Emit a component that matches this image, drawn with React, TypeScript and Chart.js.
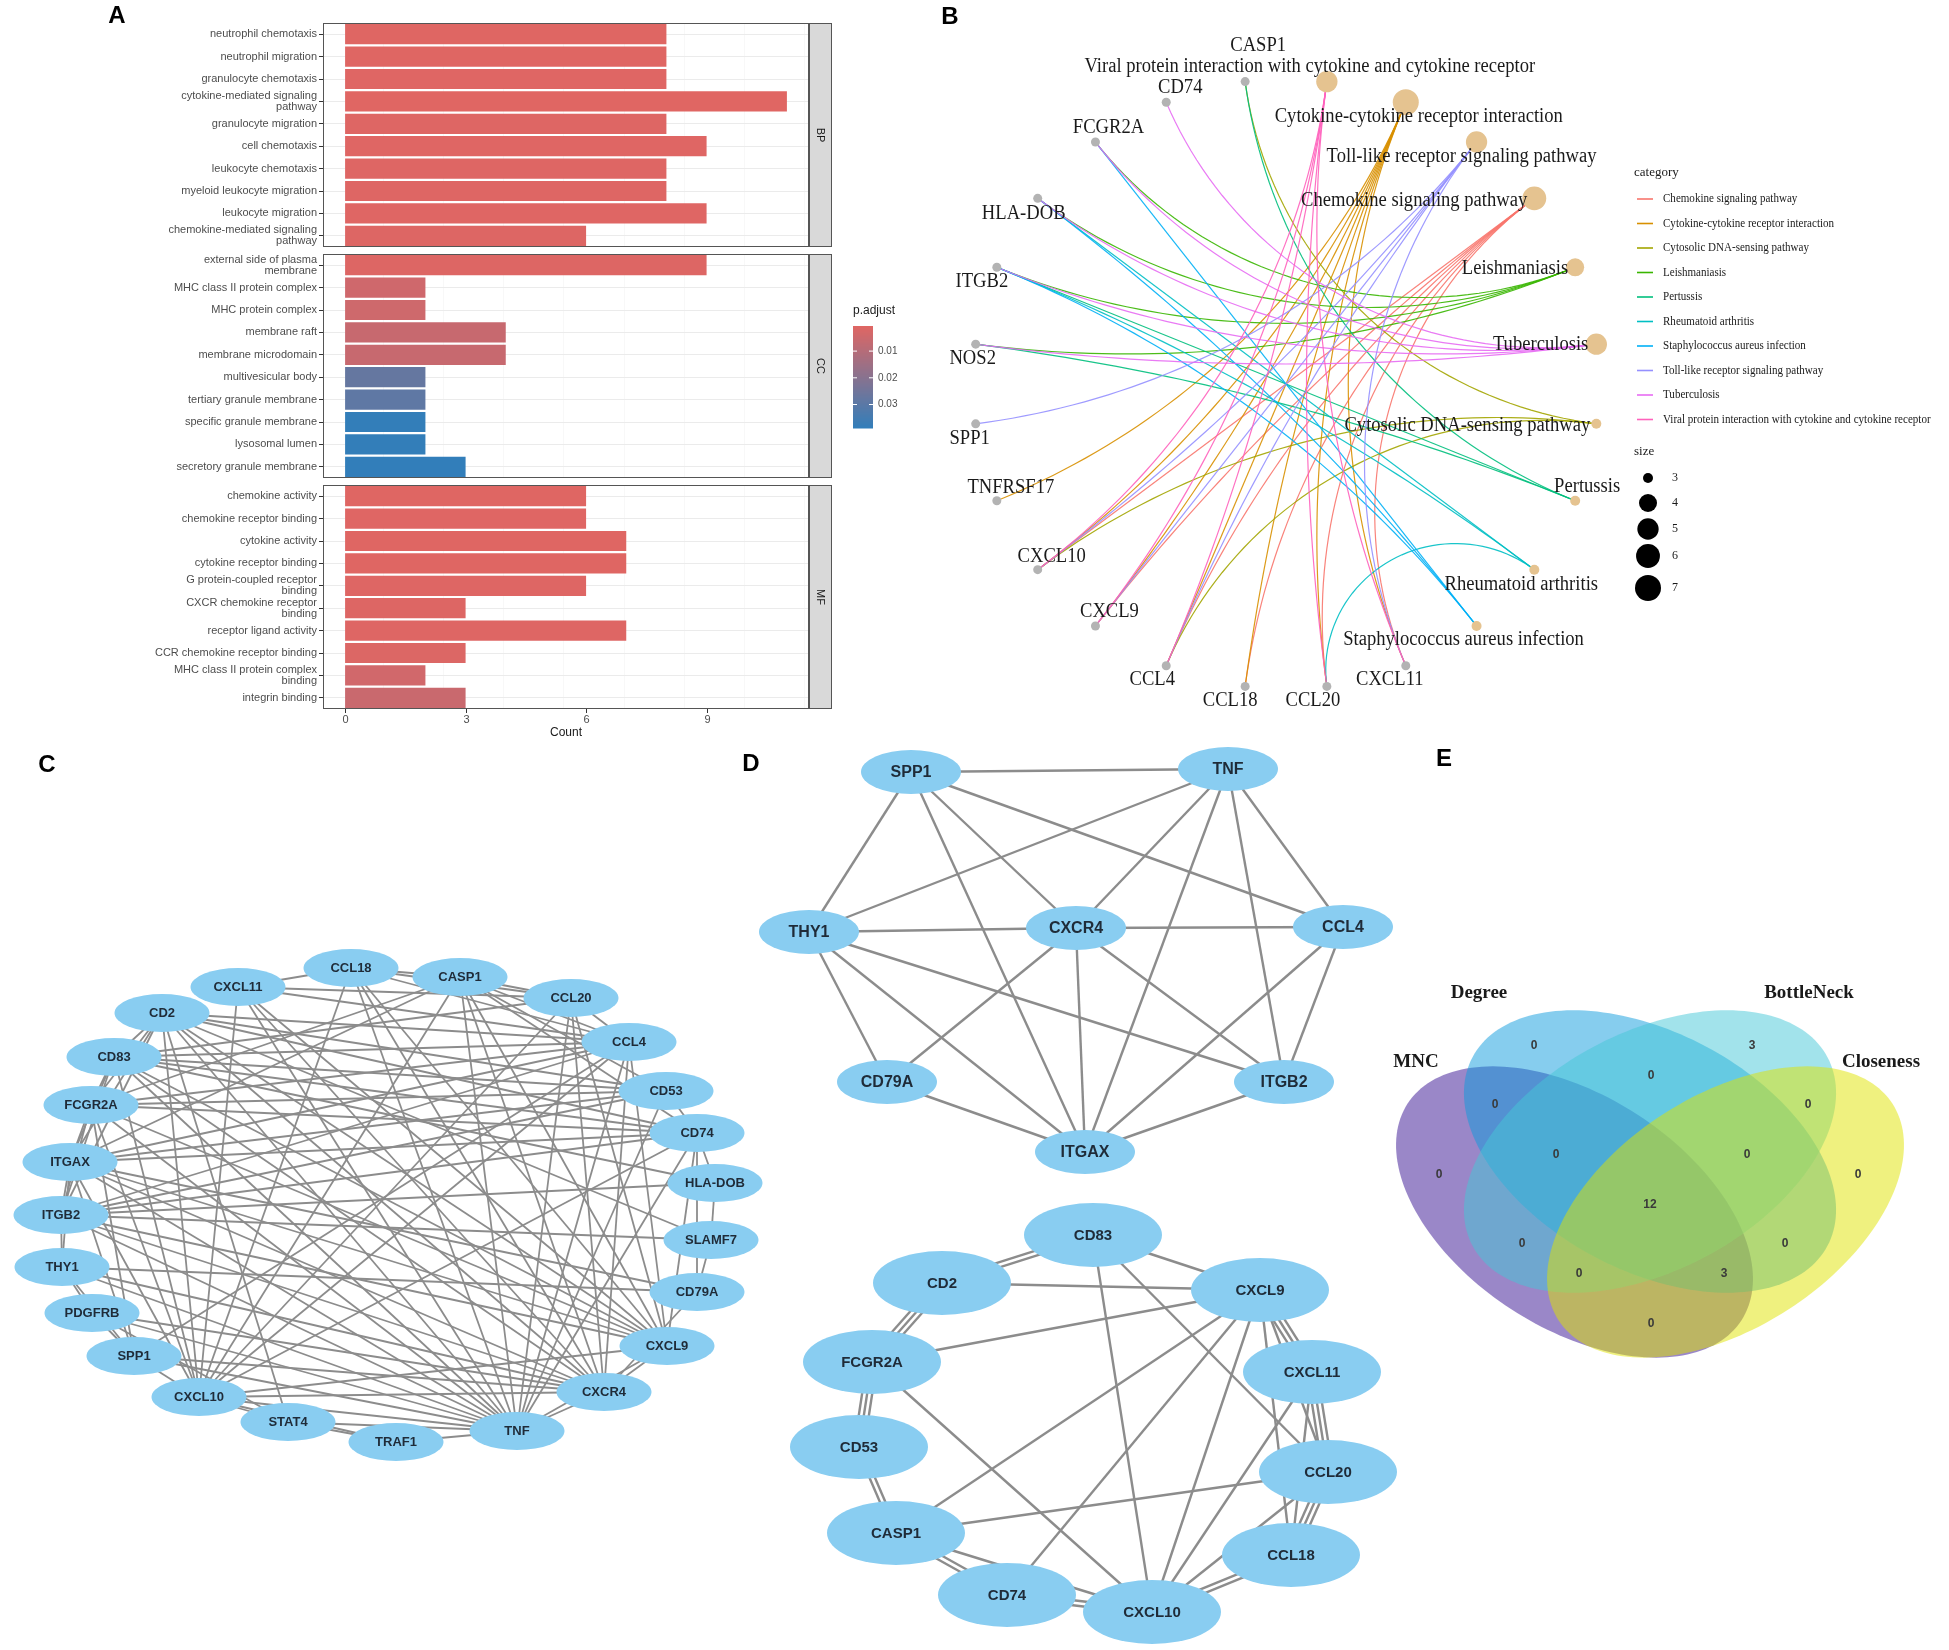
import React, { useEffect, useRef } from "react";
import { Chart, registerables } from "chart.js";
Chart.register(...registerables);

const SANS = '"Liberation Sans", Arial, sans-serif';
const SERIF = '"Liberation Serif", "Times New Roman", serif';

// ================= Panel A : GO enrichment (Count, p.adjust) =================
const bpTerms = [
  "neutrophil chemotaxis", "neutrophil migration", "granulocyte chemotaxis",
  "cytokine-mediated signaling\npathway", "granulocyte migration", "cell chemotaxis",
  "leukocyte chemotaxis", "myeloid leukocyte migration", "leukocyte migration",
  "chemokine-mediated signaling\npathway",
];
const bpCounts = [8, 8, 8, 11, 8, 9, 8, 8, 9, 6];
const bpPadj = [0.0008, 0.0008, 0.0009, 0.0006, 0.001, 0.0009, 0.001, 0.0011, 0.0009, 0.0012];

const ccTerms = [
  "external side of plasma\nmembrane", "MHC class II protein complex", "MHC protein complex",
  "membrane raft", "membrane microdomain", "multivesicular body", "tertiary granule membrane",
  "specific granule membrane", "lysosomal lumen", "secretory granule membrane",
];
const ccCounts = [9, 2, 2, 4, 4, 2, 2, 2, 2, 3];
const ccPadj = [0.0012, 0.0044, 0.0046, 0.006, 0.006, 0.0275, 0.029, 0.0385, 0.0385, 0.0388];

const mfTerms = [
  "chemokine activity", "chemokine receptor binding", "cytokine activity", "cytokine receptor binding",
  "G protein-coupled receptor\nbinding", "CXCR chemokine receptor\nbinding", "receptor ligand activity",
  "CCR chemokine receptor binding", "MHC class II protein complex\nbinding", "integrin binding",
];
const mfCounts = [6, 6, 7, 7, 6, 3, 7, 3, 2, 3];
const mfPadj = [0.0008, 0.0009, 0.0008, 0.0008, 0.001, 0.0012, 0.0011, 0.0014, 0.004, 0.0056];

const countTickLabels = [0, 3, 6, 9];
const countMajorStep = 3;
const padjLegendTicks = [0.01, 0.02, 0.03];

// ================= Panel B : cnetplot =================
const cnetGenes = ["CASP1", "CD74", "FCGR2A", "HLA-DOB", "ITGB2", "NOS2", "SPP1", "TNFRSF17", "CXCL10", "CXCL9", "CCL4", "CCL18", "CCL20", "CXCL11"];
const cnetPathways = [
  "Chemokine signaling pathway", "Cytokine-cytokine receptor interaction", "Cytosolic DNA-sensing pathway",
  "Leishmaniasis", "Pertussis", "Rheumatoid arthritis", "Staphylococcus aureus infection",
  "Toll-like receptor signaling pathway", "Tuberculosis", "Viral protein interaction with cytokine and cytokine receptor",
];
const cnetPathwayGenes = [
  ["CXCL10", "CXCL9", "CCL4", "CCL18", "CCL20", "CXCL11"],
  ["TNFRSF17", "CXCL10", "CXCL9", "CCL4", "CCL18", "CCL20", "CXCL11"],
  ["CASP1", "CXCL10", "CCL4"],
  ["FCGR2A", "HLA-DOB", "ITGB2", "NOS2"],
  ["CASP1", "ITGB2", "NOS2"],
  ["HLA-DOB", "ITGB2", "CCL20"],
  ["FCGR2A", "HLA-DOB", "ITGB2"],
  ["SPP1", "CXCL10", "CXCL9", "CCL4", "CXCL11"],
  ["CD74", "FCGR2A", "HLA-DOB", "ITGB2", "NOS2"],
  ["CXCL10", "CXCL9", "CCL4", "CCL20", "CXCL11"],
];
const cnetCircleOrder = [
  "Viral protein interaction with cytokine and cytokine receptor", "Cytokine-cytokine receptor interaction",
  "Toll-like receptor signaling pathway", "Chemokine signaling pathway", "Leishmaniasis", "Tuberculosis",
  "Cytosolic DNA-sensing pathway", "Pertussis", "Rheumatoid arthritis", "Staphylococcus aureus infection",
  "CXCL11", "CCL20", "CCL18", "CCL4", "CXCL9", "CXCL10", "TNFRSF17", "SPP1", "NOS2", "ITGB2", "HLA-DOB", "FCGR2A", "CD74", "CASP1",
];
const sizeLegendValues = [3, 4, 5, 6, 7];

// ================= Panel C : PPI network (layout coordinates) =================
const ppiNodes = ["CCL18", "CASP1", "CCL20", "CCL4", "CD53", "CD74", "HLA-DOB", "SLAMF7", "CD79A", "CXCL9", "CXCR4", "TNF", "TRAF1", "STAT4", "CXCL10", "SPP1", "PDGFRB", "THY1", "ITGB2", "ITGAX", "FCGR2A", "CD83", "CD2", "CXCL11"];
const ppiX = [351, 460, 571, 629, 666, 697, 715, 711, 697, 667, 604, 517, 396, 288, 199, 134, 92, 62, 61, 70, 91, 114, 162, 238];
const ppiY = [228, 237, 258, 302, 351, 393, 443, 500, 552, 606, 652, 691, 702, 682, 657, 616, 573, 527, 475, 422, 365, 317, 273, 247];
const ppiEdges = [
  ["TNF", "CCL18"], ["TNF", "CASP1"], ["TNF", "CCL20"], ["TNF", "CCL4"], ["TNF", "CD74"], ["TNF", "CXCL9"], ["TNF", "CXCR4"], ["TNF", "TRAF1"], ["TNF", "STAT4"], ["TNF", "CXCL10"],
  ["TNF", "SPP1"], ["TNF", "PDGFRB"], ["TNF", "THY1"], ["TNF", "ITGB2"], ["TNF", "ITGAX"], ["TNF", "FCGR2A"], ["TNF", "CD83"], ["TNF", "CD2"], ["TNF", "CXCL11"], ["TNF", "CD53"],
  ["CXCL10", "CCL18"], ["CXCL10", "CASP1"], ["CXCL10", "CCL20"], ["CXCL10", "CCL4"], ["CXCL10", "CD74"], ["CXCL10", "CXCL9"], ["CXCL10", "CXCR4"], ["CXCL10", "STAT4"], ["CXCL10", "SPP1"],
  ["CXCL10", "ITGAX"], ["CXCL10", "FCGR2A"], ["CXCL10", "CD83"], ["CXCL10", "CD2"], ["CXCL10", "CXCL11"], ["CXCL10", "TRAF1"],
  ["CXCR4", "SPP1"], ["CXCR4", "THY1"], ["CXCR4", "CCL4"], ["CXCR4", "CD79A"], ["CXCR4", "ITGAX"], ["CXCR4", "ITGB2"], ["CXCR4", "CXCL9"], ["CXCR4", "CCL20"], ["CXCR4", "CXCL11"],
  ["CXCR4", "CASP1"], ["CXCR4", "CD2"], ["CXCR4", "CD83"], ["CXCR4", "CCL18"], ["CXCR4", "PDGFRB"],
  ["CXCL9", "CD83"], ["CXCL9", "CD2"], ["CXCL9", "FCGR2A"], ["CXCL9", "CASP1"], ["CXCL9", "CD74"], ["CXCL9", "CXCL11"], ["CXCL9", "CCL20"], ["CXCL9", "CCL18"], ["CXCL9", "CCL4"],
  ["CXCL9", "ITGAX"], ["CXCL9", "ITGB2"],
  ["CCL4", "SPP1"], ["CCL4", "ITGAX"], ["CCL4", "ITGB2"], ["CCL4", "CCL20"], ["CCL4", "CCL18"], ["CCL4", "CXCL11"], ["CCL4", "CASP1"], ["CCL4", "CD83"], ["CCL4", "CD2"], ["CCL4", "FCGR2A"],
  ["ITGAX", "SPP1"], ["ITGAX", "THY1"], ["ITGAX", "CD79A"], ["ITGAX", "ITGB2"], ["ITGAX", "FCGR2A"], ["ITGAX", "CD83"], ["ITGAX", "CD2"], ["ITGAX", "CD53"], ["ITGAX", "CD74"], ["ITGAX", "CASP1"],
  ["ITGB2", "THY1"], ["ITGB2", "FCGR2A"], ["ITGB2", "CD2"], ["ITGB2", "CD83"], ["ITGB2", "CD53"], ["ITGB2", "CD74"], ["ITGB2", "HLA-DOB"], ["ITGB2", "SLAMF7"],
  ["CD83", "CD2"], ["CD83", "CCL20"], ["CD83", "CD74"], ["CD83", "CD53"], ["CD83", "FCGR2A"], ["CD83", "HLA-DOB"],
  ["CD2", "FCGR2A"], ["CD2", "SLAMF7"], ["CD2", "CD53"], ["CD2", "CD74"], ["CD2", "STAT4"],
  ["FCGR2A", "CD53"], ["FCGR2A", "CD74"], ["FCGR2A", "CASP1"], ["FCGR2A", "SPP1"],
  ["CD53", "CASP1"], ["CD53", "CD74"], ["CASP1", "CD74"], ["CASP1", "CCL20"], ["CASP1", "CCL18"],
  ["CCL20", "CCL18"], ["CCL20", "CXCL11"], ["CXCL11", "CCL18"], ["CD74", "HLA-DOB"], ["CD74", "CD79A"],
  ["CD79A", "THY1"], ["CD79A", "SLAMF7"], ["THY1", "SPP1"], ["THY1", "PDGFRB"], ["PDGFRB", "SPP1"], ["PDGFRB", "STAT4"],
  ["STAT4", "TRAF1"], ["SLAMF7", "HLA-DOB"],
];

// ================= Panel D : hub sub-networks (layout coordinates) =================
const hubANodes = ["SPP1", "TNF", "THY1", "CXCR4", "CCL4", "CD79A", "ITGB2", "ITGAX"];
const hubAX = [171, 488, 69, 336, 603, 147, 544, 345];
const hubAY = [32, 29, 192, 188, 187, 342, 342, 412];
const hubAEdges = [
  ["SPP1", "TNF", 1], ["SPP1", "THY1", 1], ["SPP1", "ITGAX", 1], ["SPP1", "CXCR4", 1], ["SPP1", "CCL4", 1],
  ["TNF", "THY1", 1], ["TNF", "CXCR4", 1], ["TNF", "ITGAX", 1], ["TNF", "ITGB2", 1], ["TNF", "CCL4", 1],
  ["THY1", "CXCR4", 1], ["THY1", "CD79A", 1], ["THY1", "ITGAX", 1], ["THY1", "ITGB2", 1],
  ["CXCR4", "CCL4", 1], ["CXCR4", "CD79A", 1], ["CXCR4", "ITGAX", 1], ["CXCR4", "ITGB2", 1],
  ["CCL4", "ITGAX", 1], ["CCL4", "ITGB2", 1], ["CD79A", "ITGAX", 1], ["ITGB2", "ITGAX", 1],
];
const hubBNodes = ["CD83", "CD2", "CXCL9", "FCGR2A", "CXCL11", "CD53", "CCL20", "CASP1", "CCL18", "CD74", "CXCL10"];
const hubBX = [353, 202, 520, 132, 572, 119, 588, 156, 551, 267, 412];
const hubBY = [495, 543, 550, 622, 632, 707, 732, 793, 815, 855, 872];
const hubBEdges = [
  ["CD83", "CD2", 2], ["CD83", "CXCL9", 1], ["CD83", "CXCL10", 1], ["CD83", "CCL20", 1], ["CD2", "CXCL9", 1],
  ["CD2", "FCGR2A", 3], ["FCGR2A", "CXCL9", 1], ["FCGR2A", "CD53", 3], ["FCGR2A", "CXCL10", 1], ["CD53", "CASP1", 2],
  ["CASP1", "CXCL9", 1], ["CASP1", "CCL20", 1], ["CASP1", "CD74", 2], ["CASP1", "CXCL10", 1], ["CD74", "CXCL10", 2],
  ["CD74", "CXCL9", 1], ["CXCL10", "CXCL9", 1], ["CXCL10", "CXCL11", 1], ["CXCL10", "CCL20", 1], ["CXCL10", "CCL18", 2],
  ["CXCL9", "CXCL11", 3], ["CXCL9", "CCL20", 1], ["CXCL9", "CCL18", 1], ["CXCL11", "CCL20", 3], ["CXCL11", "CCL18", 1],
  ["CCL20", "CCL18", 3],
];

// ================= Panel E : Venn counts =================
const vennSets = ["MNC", "Degree", "BottleNeck", "Closeness"];
const vennRegions = ["D", "B", "DB", "MD", "BC", "M", "C", "MDB", "DBC", "MDBC", "MB", "DC", "MBC", "MDC", "MC"];
const vennCounts = [0, 3, 0, 0, 0, 0, 0, 0, 0, 12, 0, 0, 0, 3, 0];

// ================= layout / style configuration =================
const PADJ_ALL = [...bpPadj, ...ccPadj, ...mfPadj];
const PADJ_MIN = Math.min(...PADJ_ALL);
const PADJ_MAX = Math.max(...PADJ_ALL);
const LOW_COL = [224, 102, 99];
const HIGH_COL = [50, 126, 186];
function padjColor(p: number) {
  const t = Math.max(0, Math.min(1, (p - PADJ_MIN) / (PADJ_MAX - PADJ_MIN)));
  const c = LOW_COL.map((v, i) => Math.round(v + (HIGH_COL[i] - v) * t));
  return `rgb(${c[0]},${c[1]},${c[2]})`;
}
const isMajor = (v: number) => Math.abs(v / countMajorStep - Math.round(v / countMajorStep)) < 1e-6;

const CNET_COLORS = ["#F8766D", "#D89000", "#A3A500", "#39B600", "#00BF7D", "#00BFC4", "#00B0F6", "#9590FF", "#E76BF3", "#FF62BC"];
const cnetSizeRadius = (s: number) => 5 + 8 * Math.sqrt(Math.max(0, s - 3) / 4);
const cnetAngle = (name: string) => {
  const n = cnetCircleOrder.length;
  const i = cnetCircleOrder.indexOf(name);
  return ((90 - ((i + 0.5) * 360) / n) * Math.PI) / 180;
};
const B_LABEL: Record<string, [number, number, string]> = {
  CASP1: [13, -36, "center"], CD74: [14, -14, "center"], FCGR2A: [13, -14, "center"], "HLA-DOB": [-14, 15, "center"],
  ITGB2: [-15, 14, "center"], NOS2: [-3, 15, "center"], SPP1: [-6, 15, "center"], TNFRSF17: [14, -13, "center"],
  CXCL10: [14, -13, "center"], CXCL9: [14, -14, "center"], CCL4: [-14, 14, "center"], CCL18: [-15, 14, "center"],
  CCL20: [-14, 14, "center"], CXCL11: [-16, 14, "center"],
  "Viral protein interaction with cytokine and cytokine receptor": [-17, -15, "center"],
  "Cytokine-cytokine receptor interaction": [13, 15, "center"],
  "Toll-like receptor signaling pathway": [-15, 15, "center"],
  "Chemokine signaling pathway": [-7, 2, "right"],
  Leishmaniasis: [-7, 1, "right"],
  Tuberculosis: [-8, 1, "right"],
  "Cytosolic DNA-sensing pathway": [-6, 2, "right"],
  Pertussis: [12, -14, "center"],
  "Rheumatoid arthritis": [-13, 15, "center"],
  "Staphylococcus aureus infection": [-13, 14, "center"],
};

const VENN_SHAPES: Record<string, any> = {
  MNC: { cx: 234.5, cy: 472, p: 199, q: 116, rot: 33, fill: "rgba(53,15,145,0.5)" },
  Degree: { cx: 310, cy: 411.5, p: 201, q: 119, rot: 28, fill: "rgba(13,155,221,0.5)" },
  BottleNeck: { cx: 310, cy: 411.5, p: 201, q: 119, rot: -28, fill: "rgba(69,199,215,0.5)" },
  Closeness: { cx: 385.5, cy: 472, p: 199, q: 116, rot: -33, fill: "rgba(223,227,0,0.5)" },
};
const VENN_SET_LABEL_POS: Record<string, [number, number]> = {
  MNC: [76, 322], Degree: [139, 253], BottleNeck: [469, 253], Closeness: [541, 322],
};
const VENN_REGION_POS: Record<string, [number, number]> = {
  D: [194, 306], B: [412, 306], DB: [311, 336], MD: [155, 365], BC: [468, 365], M: [99, 435], C: [518, 435],
  MDB: [216, 415], DBC: [407, 415], MDBC: [310, 465], MB: [182, 504], DC: [445, 504], MBC: [239, 534], MDC: [384, 534], MC: [311, 584],
};

// ================= helpers =================
function hiddenScale(min: number, max: number, reverse = false) {
  return { type: "linear", display: false, min, max, bounds: "data", reverse };
}

function geodesic(a1: number, a2: number, n = 48) {
  const p1 = [Math.cos(a1), Math.sin(a1)];
  const p2 = [Math.cos(a2), Math.sin(a2)];
  let d = a2 - a1;
  while (d > Math.PI) d -= 2 * Math.PI;
  while (d < -Math.PI) d += 2 * Math.PI;
  const h = Math.abs(d) / 2;
  if (Math.PI / 2 - h < 1e-3) return [p1, p2];
  const m = a1 + d / 2;
  const dist = 1 / Math.cos(h);
  const R = Math.tan(h);
  const o = [dist * Math.cos(m), dist * Math.sin(m)];
  const b1 = Math.atan2(p1[1] - o[1], p1[0] - o[0]);
  const b2 = Math.atan2(p2[1] - o[1], p2[0] - o[0]);
  let db = b2 - b1;
  while (db > Math.PI) db -= 2 * Math.PI;
  while (db < -Math.PI) db += 2 * Math.PI;
  const pts = [];
  for (let i = 0; i <= n; i++) {
    const b = b1 + (db * i) / n;
    pts.push([o[0] + R * Math.cos(b), o[1] + R * Math.sin(b)]);
  }
  return pts;
}

// ================= Panel A config =================
function drawPadjLegend(ctx: CanvasRenderingContext2D, offTop: number) {
  const x0 = 853, top = 326 - offTop, h = 102, w = 20;
  ctx.save();
  ctx.fillStyle = "#1A1A1A";
  ctx.font = `12px ${SANS}`;
  ctx.textAlign = "left";
  ctx.textBaseline = "middle";
  ctx.fillText("p.adjust", x0, 311 - offTop);
  for (let i = 0; i < h; i++) {
    const p = PADJ_MIN + ((i + 0.5) / h) * (PADJ_MAX - PADJ_MIN);
    ctx.fillStyle = padjColor(p);
    ctx.fillRect(x0, top + i, w, 1.5);
  }
  ctx.font = `10px ${SANS}`;
  padjLegendTicks.forEach((v) => {
    const y = top + ((v - PADJ_MIN) / (PADJ_MAX - PADJ_MIN)) * h;
    ctx.strokeStyle = "#ffffff";
    ctx.lineWidth = 1;
    ctx.beginPath();
    ctx.moveTo(x0, y); ctx.lineTo(x0 + 4, y);
    ctx.moveTo(x0 + w - 4, y); ctx.lineTo(x0 + w, y);
    ctx.stroke();
    ctx.fillStyle = "#4D4D4D";
    ctx.fillText(v.toFixed(2), x0 + w + 5, y);
  });
  ctx.restore();
}

function facetPlugin(strip: string, isBottom: boolean, legendOffTop: number | null) {
  return {
    id: "facetDecor",
    afterDraw(chart: any) {
      const { ctx, chartArea: a } = chart;
      ctx.save();
      ctx.strokeStyle = "#555555";
      ctx.lineWidth = 1;
      ctx.strokeRect(a.left + 0.5, a.top + 0.5, a.right - a.left - 1, a.bottom - a.top - 1);
      if (isBottom) {
        const xs = chart.scales.x;
        ctx.font = `11px ${SANS}`;
        ctx.textAlign = "center";
        ctx.textBaseline = "middle";
        countTickLabels.forEach((v) => {
          const X = Math.round(xs.getPixelForValue(v)) + 0.5;
          ctx.strokeStyle = "#333333";
          ctx.beginPath();
          ctx.moveTo(X, a.bottom);
          ctx.lineTo(X, a.bottom + 4);
          ctx.stroke();
          ctx.fillStyle = "#4D4D4D";
          ctx.fillText(String(v), X, a.bottom + 11);
        });
      }
      const sw = 23;
      ctx.strokeStyle = "#555555";
      ctx.fillStyle = "#D9D9D9";
      ctx.fillRect(a.right, a.top, sw, a.bottom - a.top);
      ctx.strokeRect(a.right + 0.5, a.top + 0.5, sw - 1, a.bottom - a.top - 1);
      ctx.translate(a.right + sw / 2, (a.top + a.bottom) / 2);
      ctx.rotate(Math.PI / 2);
      ctx.fillStyle = "#1A1A1A";
      ctx.font = `11px ${SANS}`;
      ctx.textAlign = "center";
      ctx.textBaseline = "middle";
      ctx.fillText(strip, 0, 0);
      ctx.restore();
      if (legendOffTop !== null) drawPadjLegend(ctx, legendOffTop);
    },
  };
}

function facetConfig(terms: string[], counts: number[], padj: number[], strip: string, isBottom: boolean, legendOffTop: number | null) {
  return {
    type: "bar",
    data: {
      labels: terms.map((t) => t.split("\n")),
      datasets: [{ data: counts, backgroundColor: padj.map(padjColor), borderWidth: 0, barPercentage: 0.9, categoryPercentage: 1.0 }],
    },
    options: {
      indexAxis: "y",
      responsive: false,
      animation: false,
      events: [],
      layout: { padding: { top: 16, bottom: isBottom ? 4 : 16, left: 0, right: 111 } },
      plugins: { legend: { display: false }, tooltip: { enabled: false } },
      scales: {
        x: {
          type: "linear",
          min: -0.55,
          max: 11.55,
          bounds: "data",
          afterFit: (s: any) => { s.height = isBottom ? 31 : 0; },
          ticks: { display: false, stepSize: 1.5, includeBounds: false, autoSkip: false },
          grid: {
            drawTicks: false,
            color: (c: any) => (c.tick && isMajor(c.tick.value) ? "#E6E6E6" : "#F3F3F3"),
            lineWidth: (c: any) => (c.tick && isMajor(c.tick.value) ? 1 : 0.6),
          },
          border: { display: false },
          title: { display: isBottom, text: "Count", color: "#1A1A1A", font: { family: SANS, size: 12 }, padding: 0 },
        },
        y: {
          type: "category",
          afterFit: (s: any) => { s.width = 323; },
          ticks: { autoSkip: false, padding: 2, color: "#4D4D4D", font: { family: SANS, size: 11, lineHeight: 1.0 } },
          grid: { offset: false, color: "#EBEBEB", lineWidth: 1, drawTicks: true, tickLength: 4, tickColor: "#333333" },
          border: { display: false },
        },
      },
    },
    plugins: [facetPlugin(strip, isBottom, legendOffTop)],
  };
}

// ================= Panel B config =================
function cnetConfig() {
  const pos = (name: string) => ({ x: Math.cos(cnetAngle(name)), y: Math.sin(cnetAngle(name)) });
  const plugin = {
    id: "cnet",
    beforeDatasetsDraw(chart: any) {
      const { ctx, scales } = chart;
      ctx.save();
      ctx.lineWidth = 1.2;
      ctx.globalAlpha = 0.9;
      cnetPathways.forEach((pw, k) => {
        ctx.strokeStyle = CNET_COLORS[k];
        cnetPathwayGenes[k].forEach((g) => {
          const pts = geodesic(cnetAngle(pw), cnetAngle(g));
          ctx.beginPath();
          pts.forEach(([px, py]: number[], i: number) => {
            const X = scales.x.getPixelForValue(px);
            const Y = scales.y.getPixelForValue(py);
            if (i === 0) ctx.moveTo(X, Y); else ctx.lineTo(X, Y);
          });
          ctx.stroke();
        });
      });
      ctx.restore();
    },
    afterDatasetsDraw(chart: any) {
      const { ctx, scales } = chart;
      ctx.save();
      ctx.fillStyle = "#1A1A1A";
      ctx.textBaseline = "middle";
      ctx.font = `20px ${SERIF}`;
      [...cnetGenes, ...cnetPathways].forEach((name) => {
        const p = pos(name);
        const X = scales.x.getPixelForValue(p.x);
        const Y = scales.y.getPixelForValue(p.y);
        const [dx, dy, al] = B_LABEL[name];
        ctx.save();
        ctx.translate(X + dx, Y + dy);
        ctx.scale(0.93, 1);
        ctx.textAlign = al;
        ctx.fillText(name, 0, 0);
        ctx.restore();
      });
      // legend (canvas-relative positions)
      ctx.font = `13px ${SERIF}`;
      ctx.textAlign = "left";
      ctx.fillText("category", 704, 173);
      cnetPathways.forEach((pw, k) => {
        const y = 199 + k * 24.5;
        ctx.strokeStyle = CNET_COLORS[k];
        ctx.lineWidth = 1.6;
        ctx.beginPath();
        ctx.moveTo(707, y); ctx.lineTo(723, y);
        ctx.stroke();
        ctx.save();
        ctx.translate(733, y);
        ctx.scale(0.92, 1);
        ctx.font = `12px ${SERIF}`;
        ctx.fillStyle = "#1A1A1A";
        ctx.fillText(pw, 0, 0);
        ctx.restore();
      });
      ctx.font = `13px ${SERIF}`;
      ctx.fillText("size", 704, 452);
      const ys = [478, 503, 529, 556, 588];
      sizeLegendValues.forEach((s, i) => {
        ctx.fillStyle = "#000000";
        ctx.beginPath();
        ctx.arc(718, ys[i], cnetSizeRadius(s), 0, Math.PI * 2);
        ctx.fill();
        ctx.fillStyle = "#1A1A1A";
        ctx.font = `12px ${SERIF}`;
        ctx.fillText(String(s), 742, ys[i]);
      });
      ctx.restore();
    },
  };
  return {
    type: "scatter",
    data: {
      datasets: [
        {
          data: cnetPathways.map(pos),
          pointRadius: cnetPathwayGenes.map((g) => cnetSizeRadius(g.length)),
          backgroundColor: "#E5C390",
          borderWidth: 0,
        },
        { data: cnetGenes.map(pos), pointRadius: 4.5, backgroundColor: "#B3B3B3", borderWidth: 0 },
      ],
    },
    options: {
      responsive: false,
      animation: false,
      events: [],
      layout: { padding: 0, autoPadding: false },
      plugins: { legend: { display: false }, tooltip: { enabled: false } },
      scales: { x: hiddenScale(-1.1374, 2.1182), y: hiddenScale(-1.1672, 1.259) },
    },
    plugins: [plugin],
  };
}

// ================= Panel C / D network config =================
function drawEllipseNode(ctx: CanvasRenderingContext2D, X: number, Y: number, w: number, h: number, label: string, fontPx: number) {
  ctx.fillStyle = "#89CDF1";
  ctx.beginPath();
  ctx.ellipse(X, Y, w / 2, h / 2, 0, 0, Math.PI * 2);
  ctx.fill();
  ctx.fillStyle = "#1F2B38";
  ctx.font = `bold ${fontPx}px ${SANS}`;
  ctx.textAlign = "center";
  ctx.textBaseline = "middle";
  ctx.fillText(label, X, Y + 0.5);
}

type Net = { nodes: string[]; xs: number[]; ys: number[]; edges: any[]; w: number; h: number; font: number; lw: number };

function networkConfig(nets: Net[], width: number, height: number) {
  const plugin = {
    id: "net",
    afterDatasetsDraw(chart: any) {
      const { ctx, scales } = chart;
      ctx.save();
      nets.forEach((net) => {
        const P = (name: string) => {
          const i = net.nodes.indexOf(name);
          return [scales.x.getPixelForValue(net.xs[i]), scales.y.getPixelForValue(net.ys[i])];
        };
        ctx.strokeStyle = "#8C8C8C";
        ctx.lineWidth = net.lw;
        net.edges.forEach((e: any) => {
          const [a, b] = [P(e[0]), P(e[1])];
          const k = e[2] || 1;
          const dx = b[0] - a[0], dy = b[1] - a[1];
          const L = Math.hypot(dx, dy) || 1;
          const nx = -dy / L, ny = dx / L;
          for (let j = 0; j < k; j++) {
            const off = (j - (k - 1) / 2) * 5;
            ctx.beginPath();
            ctx.moveTo(a[0] + nx * off, a[1] + ny * off);
            ctx.lineTo(b[0] + nx * off, b[1] + ny * off);
            ctx.stroke();
          }
        });
        net.nodes.forEach((n) => {
          const [X, Y] = P(n);
          drawEllipseNode(ctx, X, Y, net.w, net.h, n, net.font);
        });
      });
      ctx.restore();
    },
  };
  return {
    type: "scatter",
    data: {
      datasets: nets.map((net) => ({ data: net.nodes.map((_, i) => ({ x: net.xs[i], y: net.ys[i] })), pointRadius: 0 })),
    },
    options: {
      responsive: false,
      animation: false,
      events: [],
      layout: { padding: 0, autoPadding: false },
      plugins: { legend: { display: false }, tooltip: { enabled: false } },
      scales: { x: hiddenScale(0, width), y: hiddenScale(0, height, true) },
    },
    plugins: [plugin],
  };
}

// ================= Panel E config =================
function vennConfig(width: number, height: number) {
  const plugin = {
    id: "venn",
    beforeDatasetsDraw(chart: any) {
      const { ctx, scales } = chart;
      ctx.save();
      vennSets.forEach((s) => {
        const e = VENN_SHAPES[s];
        const th = (e.rot * Math.PI) / 180;
        ctx.fillStyle = e.fill;
        ctx.beginPath();
        for (let i = 0; i <= 180; i++) {
          const t = (i / 180) * Math.PI * 2;
          const u = e.p * Math.cos(t), v = e.q * Math.sin(t);
          const x = e.cx + u * Math.cos(th) - v * Math.sin(th);
          const y = e.cy + u * Math.sin(th) + v * Math.cos(th);
          const X = scales.x.getPixelForValue(x), Y = scales.y.getPixelForValue(y);
          if (i === 0) ctx.moveTo(X, Y); else ctx.lineTo(X, Y);
        }
        ctx.closePath();
        ctx.fill();
      });
      ctx.restore();
    },
    afterDatasetsDraw(chart: any) {
      const { ctx, scales } = chart;
      ctx.save();
      ctx.textAlign = "center";
      ctx.textBaseline = "middle";
      ctx.fillStyle = "#3A3A3A";
      ctx.font = `bold 12px ${SANS}`;
      vennRegions.forEach((r, i) => {
        const [x, y] = VENN_REGION_POS[r];
        ctx.fillText(String(vennCounts[i]), scales.x.getPixelForValue(x), scales.y.getPixelForValue(y));
      });
      ctx.fillStyle = "#1A1A1A";
      ctx.font = `bold 19px ${SERIF}`;
      vennSets.forEach((s) => {
        const [x, y] = VENN_SET_LABEL_POS[s];
        ctx.fillText(s, scales.x.getPixelForValue(x), scales.y.getPixelForValue(y));
      });
      ctx.restore();
    },
  };
  return {
    type: "scatter",
    data: { datasets: [{ data: vennRegions.map((r) => ({ x: VENN_REGION_POS[r][0], y: VENN_REGION_POS[r][1] })), pointRadius: 0 }] },
    options: {
      responsive: false,
      animation: false,
      events: [],
      layout: { padding: 0, autoPadding: false },
      plugins: { legend: { display: false }, tooltip: { enabled: false } },
      scales: { x: hiddenScale(0, width), y: hiddenScale(0, height, true) },
    },
    plugins: [plugin],
  };
}

// ================= components =================
function ChartCanvas({ left, top, width, height, make }: { left: number; top: number; width: number; height: number; make: () => any }) {
  const ref = useRef<HTMLCanvasElement | null>(null);
  useEffect(() => {
    const chart = new Chart(ref.current as HTMLCanvasElement, make());
    return () => chart.destroy();
  }, []);
  return <canvas ref={ref} width={width} height={height} style={{ position: "absolute", left, top, width, height }} />;
}

function PanelLetter({ x, y, t }: { x: number; y: number; t: string }) {
  return (
    <div style={{ position: "absolute", left: x, top: y, transform: "translate(-50%, -50%)", font: `bold 24px ${SANS}`, color: "#000" }}>{t}</div>
  );
}

export default function App() {
  return (
    <div style={{ position: "absolute", left: 0, top: 0, width: 1949, height: 1650, background: "#ffffff", overflow: "hidden" }}>
      <ChartCanvas left={0} top={7} width={920} height={256} make={() => facetConfig(bpTerms, bpCounts, bpPadj, "BP", false, null)} />
      <ChartCanvas left={0} top={238} width={920} height={256} make={() => facetConfig(ccTerms, ccCounts, ccPadj, "CC", false, 238)} />
      <ChartCanvas left={0} top={469} width={920} height={275} make={() => facetConfig(mfTerms, mfCounts, mfPadj, "MF", true, null)} />
      <ChartCanvas left={930} top={0} width={1019} height={740} make={cnetConfig} />
      <ChartCanvas
        left={0} top={740} width={780} height={760}
        make={() => networkConfig([{ nodes: ppiNodes, xs: ppiX, ys: ppiY, edges: ppiEdges, w: 95, h: 38, font: 13, lw: 1.8 }], 780, 760)}
      />
      <ChartCanvas
        left={740} top={740} width={680} height={910}
        make={() =>
          networkConfig(
            [
              { nodes: hubANodes, xs: hubAX, ys: hubAY, edges: hubAEdges, w: 100, h: 44, font: 16, lw: 2.4 },
              { nodes: hubBNodes, xs: hubBX, ys: hubBY, edges: hubBEdges, w: 138, h: 64, font: 15, lw: 2.4 },
            ],
            680, 910
          )
        }
      />
      <ChartCanvas left={1340} top={740} width={609} height={740} make={() => vennConfig(609, 740)} />
      <PanelLetter x={117} y={15} t="A" />
      <PanelLetter x={950} y={16} t="B" />
      <PanelLetter x={47} y={764} t="C" />
      <PanelLetter x={751} y={763} t="D" />
      <PanelLetter x={1444} y={758} t="E" />
    </div>
  );
}
